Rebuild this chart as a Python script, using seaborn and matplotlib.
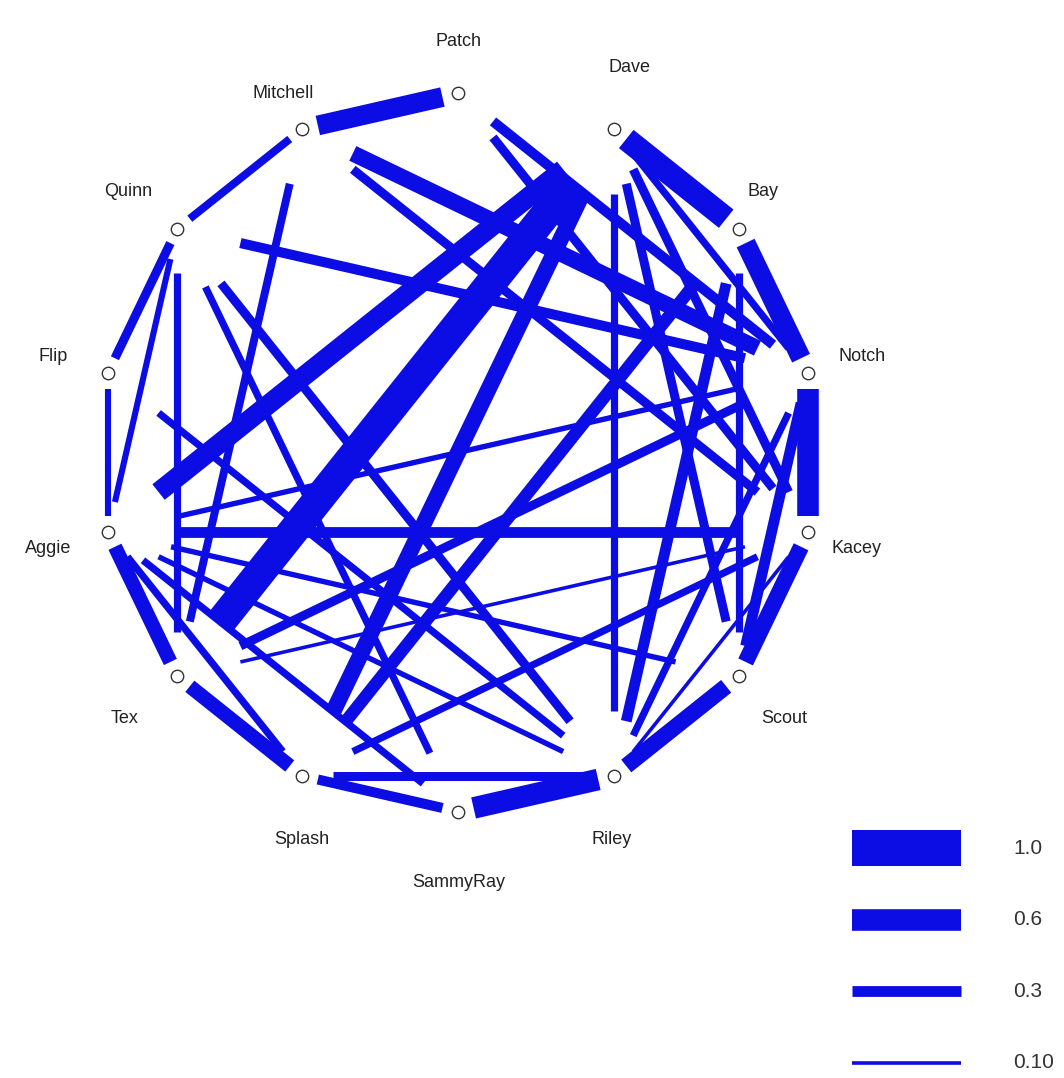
import numpy as np
import pandas as pd
import matplotlib.pyplot as plt
import seaborn as sns

# actors, clockwise from the top
nodes = ["Patch", "Dave", "Bay", "Notch", "Kacey", "Scout", "Riley",
         "SammyRay", "Splash", "Tex", "Aggie", "Flip", "Quinn", "Mitchell"]

# tie strengths
edge_from = ["Patch", "Mitchell", "Quinn", "Flip", "Aggie", "Tex", "Splash",
             "SammyRay", "Riley", "Scout", "Kacey", "Notch", "Bay",
             "Dave", "Dave", "Dave", "Dave", "Dave", "Dave", "Dave",
             "Patch", "Patch", "Mitchell", "Mitchell", "Mitchell",
             "Quinn", "Quinn", "Quinn", "Quinn", "Quinn", "Flip",
             "Aggie", "Aggie", "Aggie", "Aggie", "Aggie", "Aggie",
             "Tex", "Tex", "Splash", "Splash", "Riley", "Riley", "Riley",
             "Scout", "Scout", "Bay"]
edge_to = ["Mitchell", "Quinn", "Flip", "Aggie", "Tex", "Splash", "SammyRay",
           "Riley", "Scout", "Kacey", "Notch", "Bay", "Dave",
           "Tex", "Aggie", "Splash", "Riley", "Kacey", "Scout", "Notch",
           "Notch", "Kacey", "Notch", "Kacey", "Tex",
           "Notch", "Aggie", "Tex", "SammyRay", "Riley", "Riley",
           "Kacey", "Notch", "Scout", "Riley", "Splash", "SammyRay",
           "Notch", "Kacey", "Kacey", "Riley", "Bay", "Kacey", "Notch",
           "Bay", "Notch", "Splash"]
edge_weight = [0.55, 0.22, 0.25, 0.17, 0.40, 0.40, 0.28,
               0.60, 0.45, 0.45, 0.60, 0.55, 0.65,
               0.85, 0.55, 0.45, 0.20, 0.25, 0.25, 0.20,
               0.28, 0.25, 0.45, 0.25, 0.22,
               0.28, 0.17, 0.20, 0.20, 0.25, 0.20,
               0.30, 0.15, 0.15, 0.15, 0.20, 0.20,
               0.25, 0.10, 0.20, 0.25, 0.30, 0.10, 0.20,
               0.20, 0.30, 0.35]

legend_values = [1.0, 0.6, 0.3, 0.10]
legend_labels = ["1.0", "0.6", "0.3", "0.10"]

# ---- layout ----
W, H, DPI = 1064, 1078, 100
R = 359.0              # circle radius in pixels
CX, CY = 458.0, 452.5  # circle centre in pixels
LW_MAX = 36.0 / (DPI / 72)   # line width (pt) of a tie of strength 1
BLUE = "#0c0ce4"
label_offset = [(0, -52), (16, -62), (24, -37), (54, -16), (49, 16), (46, 42),
                (-2, 64), (1, 71), (0, 64), (-53, 42), (-60, 16), (-55, -16),
                (-49, -37), (-19, -36)]

ang = np.deg2rad(90 - np.arange(len(nodes)) * 360 / len(nodes))
pos = {n: (np.cos(a), np.sin(a)) for n, a in zip(nodes, ang)}

rows = []
for i, (a, b, w) in enumerate(zip(edge_from, edge_to, edge_weight)):
    (x0, y0), (x1, y1) = pos[a], pos[b]
    for t in (0.1, 0.9):
        rows.append({"edge": i, "weight": w,
                     "x": x0 + t * (x1 - x0), "y": y0 + t * (y1 - y0)})
edges = pd.DataFrame(rows)

sns.set_theme(style="white")
plt.rcParams["font.family"] = ["Liberation Sans", "DejaVu Sans"]

fig = plt.figure(figsize=(W / DPI, H / DPI), dpi=DPI)
ax = fig.add_axes([0, 0, 1, 1])
ax.set_xlim(-CX / R, (W - CX) / R)
ax.set_ylim(-(H - CY) / R, CY / R)
ax.set_aspect("equal")
ax.axis("off")

sns.lineplot(data=edges, x="x", y="y", units="edge", estimator=None,
             size="weight", sizes=(0, LW_MAX), size_norm=(0, 1),
             color=BLUE, sort=False, legend=False, ax=ax,
             solid_capstyle="butt")

nx = [pos[n][0] for n in nodes]
ny = [pos[n][1] for n in nodes]
ax.scatter(nx, ny, s=80, facecolor="white", edgecolor="#333333",
           linewidth=1.0, zorder=5)

for n, (dx, dy) in zip(nodes, label_offset):
    ax.text(pos[n][0] + dx / R, pos[n][1] - dy / R, n, fontsize=13,
            color="#222222", ha="center", va="center")

# legend of tie strengths
for k, (v, lab) in enumerate(zip(legend_values, legend_labels)):
    yy = (CY - (848 + 71.5 * k)) / R
    ax.plot([(852 - CX) / R, (961 - CX) / R], [yy, yy], color=BLUE,
            linewidth=v * LW_MAX, solid_capstyle="butt")
    ax.text((1013 - CX) / R, yy, lab, fontsize=15, color="#333333",
            ha="left", va="center")

fig.savefig("out.png", dpi=DPI, facecolor="white")
